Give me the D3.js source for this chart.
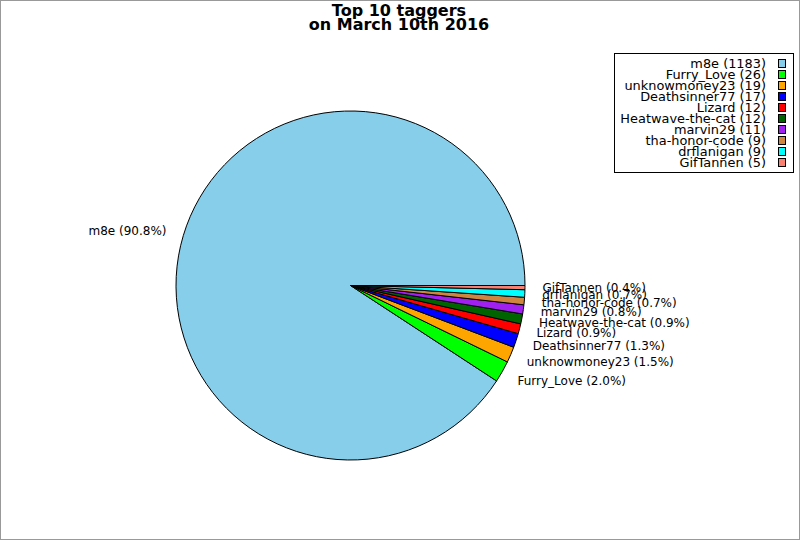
<!DOCTYPE html>
<html>
<head>
<meta charset="utf-8">
<script src="https://cdn.jsdelivr.net/npm/d3@7"></script>
<style>
  body { margin: 0; background: #fff; }
  text { font-family: "DejaVu Sans", sans-serif; }
</style>
</head>
<body>
<div id="display"></div>
<script>
// top 10 taggers
const taggers = ['m8e', 'Furry_Love', 'unknowmoney23', 'Deathsinner77', 'Lizard',
    'Heatwave-the-cat', 'marvin29', 'tha-honor-code', 'drflanigan', 'GifTannen'];
const tagCounts = [1183, 26, 19, 17, 12, 12, 11, 9, 9, 5];
const sliceColors = ['#87ceeb', '#00ff00', '#ffa500', '#0000ff', '#ff0000',
    '#006400', '#a020f0', '#cd853f', '#00ffff', '#fa8072'];
const titleLines = ['Top 10 taggers', 'on March 10th 2016'];

let width = 800, height = 540;
let cx = 350.5, cy = 285.5, radius = 174.5;

let data = taggers.map((name, i) => ({name: name, count: tagCounts[i]}));
let total = d3.sum(tagCounts);

let svg = d3.select('#display')
    .append('svg')
        .attr('width', width)
        .attr('height', height);

// figure frame
svg.append('rect')
    .attr('x', 0.5).attr('y', 0.5)
    .attr('width', width - 1).attr('height', height - 1)
    .attr('fill', '#fff')
    .attr('stroke', '#999');

// title
svg.append('text')
    .attr('x', 399)
    .attr('y', 16)
    .attr('text-anchor', 'middle')
    .style('font-size', '16px')
    .style('font-weight', 'bold')
    .selectAll('tspan')
    .data(titleLines)
    .join('tspan')
        .attr('x', 399)
        .attr('dy', (d, i) => i === 0 ? 0 : 13.5)
        .text(d => d);

let colors = d3.scaleOrdinal()
    .domain(taggers)
    .range(sliceColors);

// counterclockwise from 3 o'clock, like the original
let pie = d3.pie()
    .value(d => d.count)
    .sort(null)
    .startAngle(Math.PI / 2)
    .endAngle(Math.PI / 2 - 2 * Math.PI);

let arc = d3.arc().innerRadius(0).outerRadius(radius);

let g = svg.append('g')
    .attr('transform', 'translate(' + cx + ',' + cy + ')');

let arcs = pie(data);

g.selectAll('path')
    .data(arcs)
    .join('path')
        .attr('d', arc)
        .attr('fill', d => colors(d.data.name))
        .attr('stroke', '#000')
        .attr('stroke-width', 1)
        .attr('stroke-linejoin', 'round');

// slice labels at 1.1 * radius
g.selectAll('text.lbl')
    .data(arcs)
    .join('text')
        .attr('class', 'lbl')
        .each(function(d) {
            let a = (d.startAngle + d.endAngle) / 2;
            let x = Math.sin(a) * radius * 1.1;
            let y = -Math.cos(a) * radius * 1.1;
            d3.select(this)
                .attr('x', x)
                .attr('y', y)
                .attr('dy', '0.36em')
                .attr('text-anchor', x > 0 ? 'start' : 'end');
        })
        .style('font-size', '12px')
        .text(d => d.data.name + ' (' + (100 * d.data.count / total).toFixed(1) + '%)');

// legend
let legend = svg.append('g');
legend.append('rect')
    .attr('x', 614.5).attr('y', 53.5)
    .attr('width', 179).attr('height', 119)
    .attr('fill', '#fff')
    .attr('stroke', '#000');

let rowY = d3.scaleLinear()
    .domain([0, taggers.length - 1])
    .range([63.5, 162.5]);

let rows = legend.selectAll('g.row')
    .data(data)
    .join('g')
        .attr('class', 'row')
        .attr('transform', (d, i) => 'translate(0,' + rowY(i) + ')');

rows.append('text')
    .attr('x', 766)
    .attr('dy', '0.36em')
    .attr('text-anchor', 'end')
    .style('font-size', '12.9px')
    .text(d => d.name + ' (' + d.count + ')');

rows.append('rect')
    .attr('x', 778.5).attr('y', -4)
    .attr('width', 7).attr('height', 8)
    .attr('fill', d => colors(d.name))
    .attr('stroke', '#000');
</script>
</body>
</html>
